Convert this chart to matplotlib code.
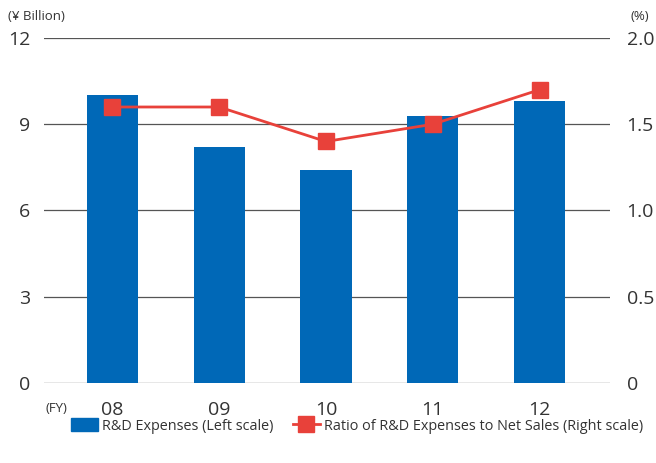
import matplotlib
matplotlib.use("Agg")
import matplotlib.pyplot as plt
from matplotlib.lines import Line2D
from matplotlib.patches import Patch

years = ["08", "09", "10", "11", "12"]
rd_expenses = [10.0, 8.2, 7.4, 9.3, 9.8]
ratio = [1.6, 1.6, 1.4, 1.5, 1.7]
left_ticks = [0, 3, 6, 9, 12]
right_ticks = [0, 0.5, 1.0, 1.5, 2.0]
right_labels = ["0", "0.5", "1.0", "1.5", "2.0"]

plt.rcParams['font.family'] = ['Open Sans', 'DejaVu Sans']
BLUE = "#0068b7"
RED = "#e8413a"
TXT = "#333333"

fig = plt.figure(figsize=(6.56, 4.63), dpi=100)
ax = fig.add_axes([44/656, 80/463, (610-44)/656, (383-38)/463])
x = range(len(years))
ax.bar(x, rd_expenses, width=0.48, color=BLUE, zorder=2)
ax.set_ylim(0, 12)
ax.set_xlim(-0.64, 4.66)
ax.set_yticks(left_ticks)
for t in left_ticks:
    ax.axhline(t, color="#555555" if t else "#444444", lw=0.9, zorder=1)
for s in ax.spines.values():
    s.set_visible(False)
ax.tick_params(axis='both', length=0, labelsize=14, colors=TXT)
ax.tick_params(axis='y', pad=10)
ax.tick_params(axis='x', pad=13)
ax.set_xticks(list(x))
ax.set_xticklabels(years)

ax2 = ax.twinx()
ax2.set_ylim(0, 2.0)
ax2.set_yticks(right_ticks)
ax2.set_yticklabels(right_labels)
for s in ax2.spines.values():
    s.set_visible(False)
ax2.tick_params(axis='y', length=0, labelsize=14, colors=TXT, pad=12)
ax2.plot(list(x), ratio, color=RED, lw=2, marker='s', markersize=12, zorder=3)

fig.text(8/656, 1 - 16/463, "(¥ Billion)", fontsize=9.5, color=TXT, va='center', ha='left')
fig.text(649/656, 1 - 16/463, "(%)", fontsize=9.5, color=TXT, va='center', ha='right')
fig.text(56/656, 1 - 409/463, "(FY)", fontsize=9.5, color=TXT, va='center', ha='center')

handles = [Patch(color=BLUE),
           Line2D([0], [0], color=RED, lw=2, marker='s', markersize=12)]
labels = ["R&D Expenses (Left scale)", "Ratio of R&D Expenses to Net Sales (Right scale)"]
fig.legend(handles, labels, loc='center', bbox_to_anchor=(357/656, 1 - 426/463),
           ncol=2, frameon=False, fontsize=10.4, labelcolor=TXT, handlelength=1.9,
           handleheight=1.0, handletextpad=0.3, columnspacing=1.3,
           borderpad=0.1, borderaxespad=0.1)

fig.savefig("out.png", dpi=100)
